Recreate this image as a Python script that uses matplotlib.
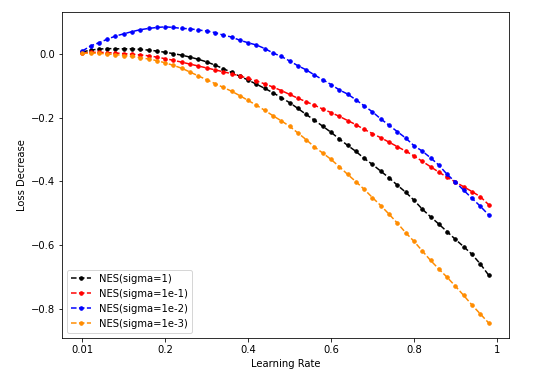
import numpy as np
import matplotlib
matplotlib.use('Agg')
import matplotlib.pyplot as plt

# learning rates, 50 steps of 0.02
lr = np.arange(50) * 0.02

nes_1 = [0.006, 0.012, 0.015, 0.017, 0.016, 0.016, 0.016, 0.014, 0.012, 0.009,
         0.005, 0.001, -0.004, -0.010, -0.017, -0.025, -0.035, -0.046, -0.058, -0.070,
         -0.082, -0.095, -0.108, -0.122, -0.137, -0.153, -0.171, -0.190, -0.208, -0.227,
         -0.246, -0.267, -0.287, -0.306, -0.328, -0.347, -0.368, -0.389, -0.412, -0.434,
         -0.459, -0.487, -0.511, -0.534, -0.558, -0.582, -0.605, -0.629, -0.659, -0.694]

nes_1e1 = [0.003, 0.005, 0.005, 0.004, 0.003, 0.001, -0.001, -0.003, -0.006, -0.010,
           -0.015, -0.020, -0.026, -0.032, -0.038, -0.044, -0.050, -0.056, -0.062, -0.069,
           -0.077, -0.085, -0.094, -0.104, -0.115, -0.127, -0.139, -0.150, -0.161, -0.173,
           -0.184, -0.196, -0.209, -0.222, -0.237, -0.250, -0.263, -0.277, -0.291, -0.305,
           -0.320, -0.337, -0.354, -0.371, -0.387, -0.402, -0.417, -0.432, -0.448, -0.473]

nes_1e2 = [0.009, 0.025, 0.035, 0.046, 0.056, 0.063, 0.070, 0.076, 0.080, 0.083,
           0.085, 0.083, 0.080, 0.079, 0.075, 0.072, 0.067, 0.059, 0.053, 0.043,
           0.035, 0.028, 0.017, 0.003, -0.008, -0.022, -0.037, -0.050, -0.066, -0.081,
           -0.096, -0.113, -0.126, -0.144, -0.163, -0.182, -0.204, -0.224, -0.244, -0.264,
           -0.288, -0.305, -0.326, -0.349, -0.378, -0.402, -0.428, -0.453, -0.478, -0.505]

nes_1e3 = [0.002, 0.003, 0.002, 0.000, -0.002, -0.005, -0.008, -0.012, -0.016, -0.021,
           -0.028, -0.036, -0.045, -0.057, -0.069, -0.081, -0.093, -0.105, -0.117, -0.131,
           -0.146, -0.161, -0.177, -0.194, -0.210, -0.227, -0.248, -0.269, -0.292, -0.311,
           -0.331, -0.354, -0.378, -0.401, -0.425, -0.451, -0.476, -0.503, -0.531, -0.561,
           -0.588, -0.618, -0.648, -0.675, -0.701, -0.729, -0.758, -0.788, -0.816, -0.844]

labels = ['NES(sigma=1)', 'NES(sigma=1e-1)', 'NES(sigma=1e-2)', 'NES(sigma=1e-3)']
colors = ['black', 'red', 'blue', 'darkorange']
xtick_pos = [0, 0.2, 0.4, 0.6, 0.8, 1.0]
xtick_labels = ['0.01', '0.2', '0.4', '0.6', '0.8', '1']

fig = plt.figure(figsize=(534 / 72, 376 / 72), dpi=72)
ax = fig.add_axes([0.116, 0.102, 0.837, 0.866])

for ys, lab, c in zip([nes_1, nes_1e1, nes_1e2, nes_1e3], labels, colors):
    ax.plot(lr, ys, '--', marker='o', color=c, markersize=3.5, label=lab)

ax.set_xticks(xtick_pos)
ax.set_xticklabels(xtick_labels)
ax.set_xlabel('Learning Rate')
ax.set_ylabel('Loss Decrease')
ax.legend(loc='lower left')

fig.savefig('out.png', dpi=72)
